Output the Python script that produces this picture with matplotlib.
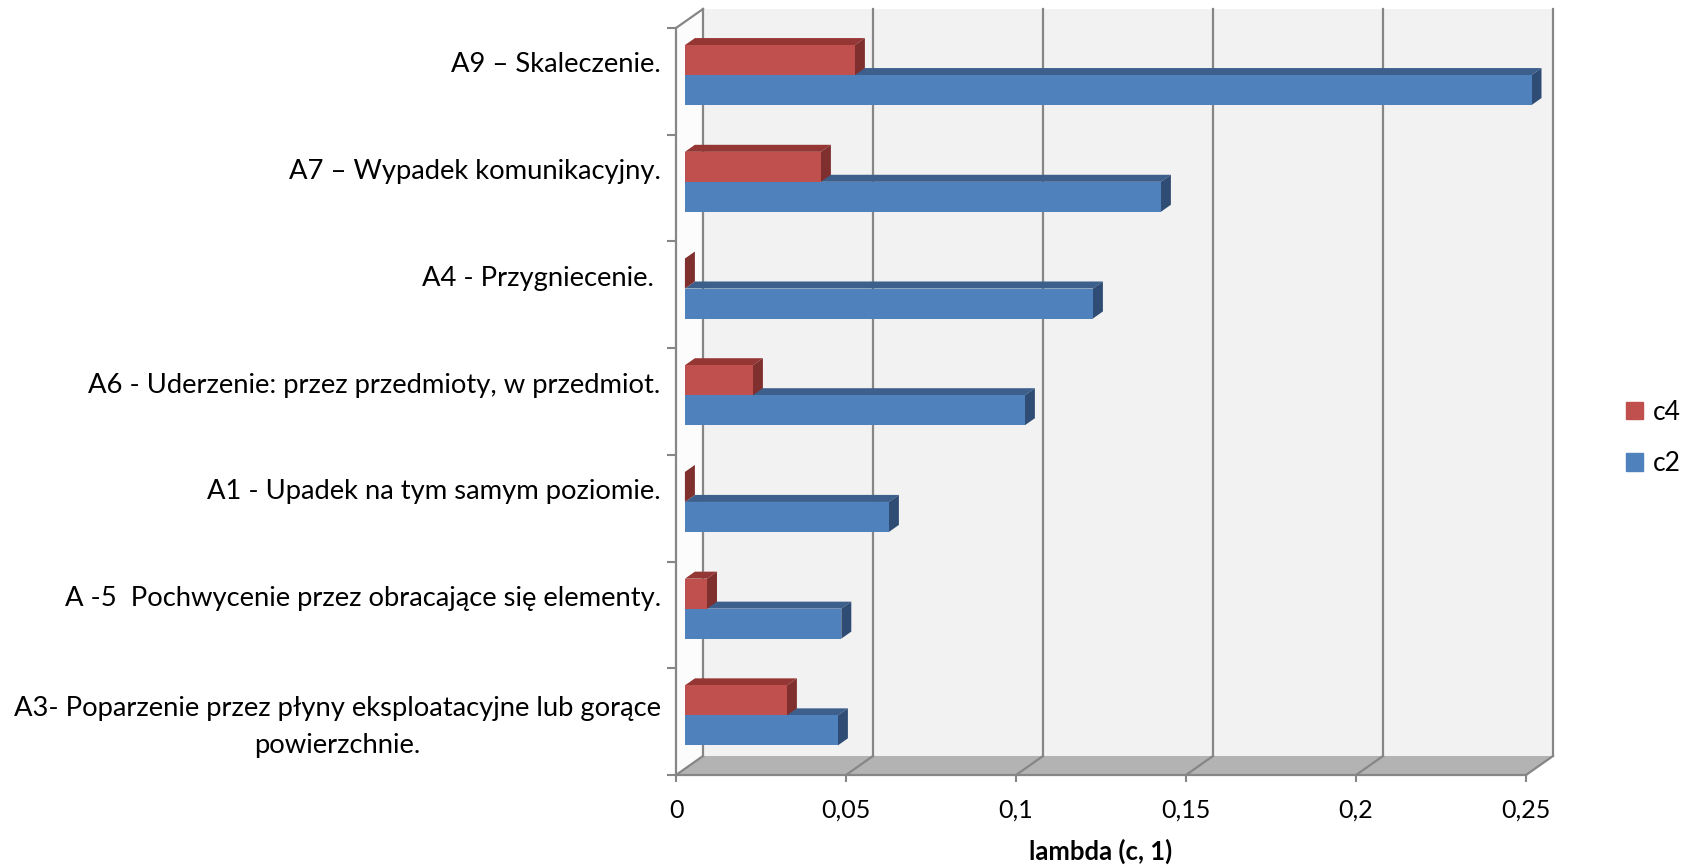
import matplotlib
matplotlib.use("Agg")
import matplotlib.pyplot as plt
from matplotlib.patches import Patch

plt.rcParams['font.family'] = ['Lato', 'DejaVu Sans']

# kategorie od dołu do góry
kategorie = [
    "A3- Poparzenie przez płyny eksploatacyjne lub gorące\npowierzchnie.",
    "A -5  Pochwycenie przez obracające się elementy.",
    "A1 - Upadek na tym samym poziomie.",
    "A6 - Uderzenie: przez przedmioty, w przedmiot.",
    "A4 - Przygniecenie. ",
    "A7 – Wypadek komunikacyjny.",
    "A9 – Skaleczenie.",
]
c2 = [0.045, 0.046, 0.06, 0.10, 0.12, 0.14, 0.249]
c4 = [0.03, 0.0065, 0.0, 0.02, 0.0, 0.04, 0.05]
xticks = [0, 0.05, 0.1, 0.15, 0.2, 0.25]
xtick_labels = ["0", "0,05", "0,1", "0,15", "0,2", "0,25"]

XMAX = 0.25
N = len(kategorie)
# głębokość pudełka 3D w jednostkach danych
DX = 0.00794
DY = 0.178
BAR_D0, BAR_D1 = 0.33, 0.70
H = 0.281

GRID = '#868686'
RED = ('#c0504d', '#943634', '#7f302e')
BLUE = ('#4f81bd', '#3c5f8c', '#2f4d74')


def pt(x, y, d):
    return (x + d * DX, y + d * DY)


def poly(ax, pts, color, z):
    xs = [p[0] for p in pts]
    ys = [p[1] for p in pts]
    ax.fill(xs, ys, color=color, lw=0, zorder=z, clip_on=False)


def bar3d(ax, v, y0, y1, colors, z):
    front, top, side = colors
    poly(ax, [pt(0, y1, BAR_D0), pt(v, y1, BAR_D0), pt(v, y1, BAR_D1), pt(0, y1, BAR_D1)], top, z)
    poly(ax, [pt(v, y0, BAR_D0), pt(v, y1, BAR_D0), pt(v, y1, BAR_D1), pt(v, y0, BAR_D1)], side, z)
    if v > 0:
        poly(ax, [pt(0, y0, BAR_D0), pt(v, y0, BAR_D0), pt(v, y1, BAR_D0), pt(0, y1, BAR_D0)], front, z)


fig = plt.figure(figsize=(16.86, 8.66), dpi=100)
ax = fig.add_axes([676 / 1686, 91 / 866, 850 / 1686, 747 / 866])
ax.set_xlim(0, XMAX)
ax.set_ylim(0, N)
ax.patch.set_visible(False)

# ściany: tylna, lewa, podłoga
poly(ax, [pt(0, 0, 1), pt(XMAX, 0, 1), pt(XMAX, N, 1), pt(0, N, 1)], '#f2f2f2', 0)
poly(ax, [pt(0, 0, 0), pt(0, 0, 1), pt(0, N, 1), pt(0, N, 0)], '#fcfcfc', 0)
poly(ax, [pt(0, 0, 0), pt(XMAX, 0, 0), pt(XMAX, 0, 1), pt(0, 0, 1)], '#b3b3b3', 0)

for x in xticks:
    ax.plot([x, x + DX], [0, DY], color=GRID, lw=1.6, zorder=1, clip_on=False)
    ax.plot([x + DX, x + DX], [DY, N + DY], color=GRID, lw=1.6, zorder=1, clip_on=False)
ax.plot([0, DX], [N, N + DY], color=GRID, lw=1.6, zorder=1, clip_on=False)

for i in range(N):
    yc = i + 0.5
    bar3d(ax, c2[i], yc - H, yc, BLUE, 3 + 2 * (N - i))
    bar3d(ax, c4[i], yc, yc + H, RED, 4 + 2 * (N - i))

for s in ['top', 'right']:
    ax.spines[s].set_visible(False)
for s in ['bottom', 'left']:
    ax.spines[s].set_color(GRID)
    ax.spines[s].set_linewidth(1.6)
    ax.spines[s].set_zorder(2)

ax.set_xticks(xticks)
ax.set_xticklabels(xtick_labels, fontsize=18)
ax.tick_params(axis='x', direction='out', length=5, width=1.5, color=GRID, pad=12)

# etykiety kategorii: jednowierszowe nieco wyżej, dwuwierszowa na środku pasa
label_y = [i + 0.525 if '\n' in k else i + 0.5 + DY for i, k in enumerate(kategorie)]
ax.set_yticks(label_y)
ax.set_yticklabels(kategorie, fontsize=19.7, multialignment='center', linespacing=1.6)
ax.set_yticks(range(N + 1), minor=True)
ax.tick_params(axis='y', which='major', length=0, pad=11)
ax.tick_params(axis='y', which='minor', direction='out', length=6.5, width=1.5, color=GRID)

ax.set_xlabel('lambda (c, 1)', fontsize=18.5, fontweight='bold', labelpad=12)

fig.legend(handles=[Patch(color=RED[0], label='c4'), Patch(color=BLUE[0], label='c2')],
           loc='center left', bbox_to_anchor=(1626 / 1686, 1 - 438 / 866), frameon=False,
           fontsize=19, handlelength=0.65, handleheight=0.65, handletextpad=0.35,
           labelspacing=1.0, borderpad=0, borderaxespad=0)

fig.savefig('out.png', dpi=100)
